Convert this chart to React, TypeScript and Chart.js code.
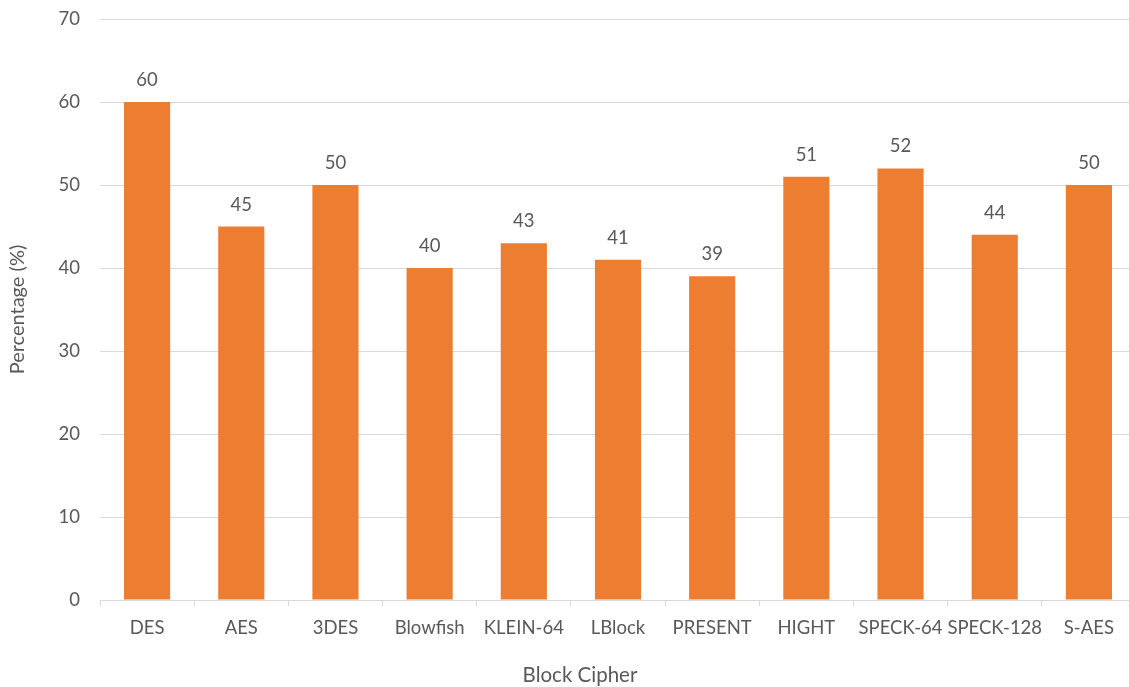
import React, { useEffect, useRef } from "react";
import { Chart, registerables } from "chart.js";

Chart.register(...registerables);

const categories = ["DES", "AES", "3DES", "Blowfish", "KLEIN-64", "LBlock", "PRESENT", "HIGHT", "SPECK-64", "SPECK-128", "S-AES"];
const values = [60, 45, 50, 40, 43, 41, 39, 51, 52, 44, 50];
const yTicks = [0, 10, 20, 30, 40, 50, 60, 70];
const xTitle = "Block Cipher";
const yTitle = "Percentage (%)";

const FONT = "Lato";
const TEXT = "#595959";
const GRID = "#D9D9D9";
const BAR = "#ED7D31";
const TOP_SHIFT = 12;

const valueLabels = {
  id: "valueLabels",
  afterDatasetsDraw(chart: any) {
    const ctx = chart.ctx;
    const meta = chart.getDatasetMeta(0);
    ctx.save();
    ctx.font = `18.5px ${FONT}`;
    ctx.fillStyle = TEXT;
    ctx.textAlign = "center";
    ctx.textBaseline = "middle";
    meta.data.forEach((bar: any, i: number) => {
      ctx.fillText(String(chart.data.datasets[0].data[i]), bar.x, bar.y - 22);
    });
    ctx.fillStyle = TEXT;
    ctx.font = `20.5px ${FONT}`;
    ctx.fillText(xTitle, 580, 675 + TOP_SHIFT);
    ctx.restore();
  },
};

export default function App() {
  const ref = useRef<HTMLCanvasElement>(null);
  useEffect(() => {
    document.documentElement.style.overflow = "hidden";
    const chart = new Chart(ref.current!, {
      type: "bar",
      data: {
        labels: categories,
        datasets: [
          {
            data: values,
            backgroundColor: BAR,
            borderWidth: 0,
            barPercentage: 0.49,
            categoryPercentage: 1,
          },
        ],
      },
      options: {
        responsive: false,
        animation: false,
        maintainAspectRatio: false,
        layout: { padding: 0 },
        plugins: { legend: { display: false }, tooltip: { enabled: false } },
        scales: {
          x: {
            offset: true,
            grid: {
              offset: true,
              drawOnChartArea: false,
              drawTicks: true,
              tickLength: 6,
              color: GRID,
              lineWidth: 1,
            },
            border: { display: true, color: GRID, width: 1 },
            ticks: { color: TEXT, font: { family: FONT, size: 18.5 }, padding: 11, maxRotation: 0, autoSkip: false },
            afterFit(scale: any) {
              scale.height = 87;
            },
          },
          y: {
            min: 0,
            max: 70,
            afterBuildTicks(scale: any) {
              scale.ticks = yTicks.map((v) => ({ value: v }));
            },
            grid: { color: GRID, lineWidth: 1, drawTicks: false, tickLength: 0 },
            border: { display: false },
            ticks: { color: TEXT, font: { family: FONT, size: 18.5 }, padding: 20 },
            title: { display: true, text: yTitle, color: TEXT, font: { family: FONT, size: 20 }, padding: { top: 6, bottom: 0 } },
            afterFit(scale: any) {
              scale.width = 100;
            },
          },
        },
      },
      plugins: [valueLabels],
    });
    return () => chart.destroy();
  }, []);
  return (
    <div style={{ position: "absolute", left: 0, top: -TOP_SHIFT, width: 1136, height: 687 + TOP_SHIFT }}>
      <canvas ref={ref} width={1136} height={687 + TOP_SHIFT} style={{ display: "block" }} />
    </div>
  );
}
